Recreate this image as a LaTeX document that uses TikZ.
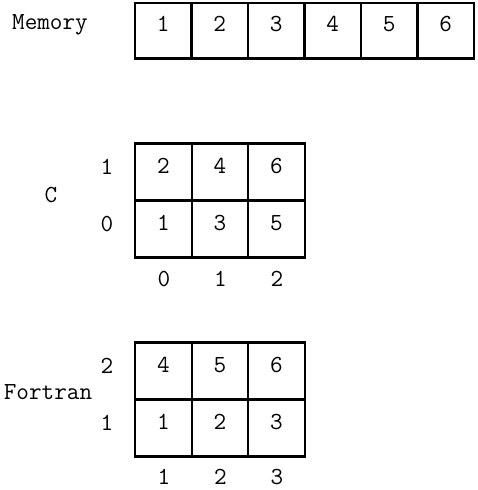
\documentclass[tikz,border=0pt]{standalone}
\usepackage{fontspec}
\begin{document}
\begin{tikzpicture}[
    x=1pt, y=-1pt,
    every node/.style={font=\ttfamily\fontsize{24.5}{28}\selectfont},
    cell/.style={rectangle, draw, line width=2.4pt, minimum width=56.5pt, minimum height=57pt,
                 inner sep=0pt, text height=15pt, text depth=13pt},
    tag/.style={inner sep=0pt}
]
\useasboundingbox (0,0) rectangle (478,490);

% Memory (1x6)
\node[tag] (memlabel) at (50,25) {Memory};
\foreach \j in {1,...,6} {
    \node[cell, minimum height=55.5pt] (mem\j) at ({163.25+(\j-1)*56.5}, 30.75) {\j};
}

% C layout (rows 0,1 / columns 0,1,2)
\node[tag] (clabel) at (51,195) {C};
\foreach \v [count=\k from 0] in {1,3,5} {
    \node[cell] (c0\k) at ({163.5+\k*56.5}, 229) {\v};
}
\foreach \v [count=\k from 0] in {2,4,6} {
    \node[cell] (c1\k) at ({163.5+\k*56.5}, 172) {\v};
}
\node[tag] (crow1) at (107,167) {1};
\node[tag] (crow0) at (107,224) {0};
\foreach \k in {0,1,2} {
    \node[tag] (ccol\k) at ({164+\k*56.5}, 279) {\k};
}

% Fortran layout (rows 1,2 / columns 1,2,3)
\node[tag] (flabel) at (48,392) {Fortran};
\foreach \v [count=\k] in {1,2,3} {
    \node[cell] (f1\k) at ({107+\k*56.5}, 428) {\v};
}
\foreach \v [count=\k] in {4,5,6} {
    \node[cell] (f2\k) at ({107+\k*56.5}, 371) {\v};
}
\node[tag] (frow2) at (107,366) {2};
\node[tag] (frow1) at (107,423) {1};
\foreach \k in {1,2,3} {
    \node[tag] (fcol\k) at ({107.5+\k*56.5}, 477) {\k};
}

\end{tikzpicture}
\end{document}
